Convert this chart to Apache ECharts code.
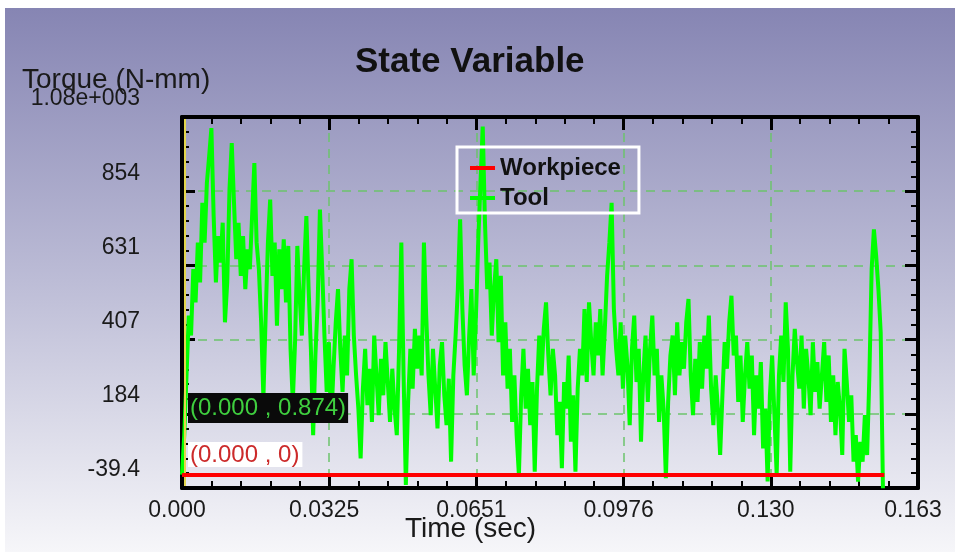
<!DOCTYPE html>
<html>
<head>
<meta charset="utf-8">
<title>State Variable</title>
<script src="https://cdn.jsdelivr.net/npm/echarts@6/dist/echarts.min.js"></script>
<style>
  body { margin: 0; background: #ffffff; }
  #charts { width: 955px; height: 552px; }
</style>
</head>
<body>
<div id="charts"></div>
<script>
/* data */
let xTickLabels = ["0.000", "0.0325", "0.0651", "0.0976", "0.130", "0.163"];
let yTickLabels = ["-39.4", "184", "407", "631", "854", "1.08e+003"];
let xMin = 0;
let xStep = 0.03255;
let yMin = -39.4;
let yStep = 223.6;

let workpieceTime = [0, 0.1553];
let workpieceTorque = [0, 0];

let toolTimeStep = 0.0005; //sec between samples
let toolTorque = [
  0.874, 120, 300, 480, 420, 620, 520, 700, 580, 820,
  700, 880, 960, 1045, 780, 580, 720, 640, 760, 460,
  580, 860, 1000, 820, 650, 760, 600, 720, 560, 680,
  620, 780, 940, 700, 620, 460, 230, 480, 700, 830,
  600, 700, 450, 680, 560, 710, 520, 690, 380, 220,
  400, 690, 540, 420, 620, 780, 560, 380, 120, 360,
  520, 800, 620, 420, 250, 400, 160, 320, 460, 560,
  380, 250, 420, 300, 560, 650, 420, 300, 200, 50,
  260, 380, 210, 320, 160, 420, 300, 180, 350, 240,
  400, 280, 160, 320, 200, 120, 380, 700, 300, -30,
  220, 380, 260, 440, 320, 420, 300, 700, 480, 300,
  180, 380, 260, 140, 330, 400, 240, 150, 290, 40,
  300, 420, 560, 770, 500, 330, 240, 420, 560, 300,
  480, 700, 880, 1050, 760, 560, 640, 420, 560, 650,
  400, 600, 300, 460, 260, 380, 160, 300, 120, 0,
  240, 380, 200, 320, 150, 280, 10, 260, 420, 300,
  440, 520, 360, 240, 380, 300, 120, 220, 20, 280,
  200, 360, 100, 240, 10, 260, 380, 300, 500, 280,
  520, 400, 300, 460, 360, 500, 300, 440, 600, 700,
  820, 500, 380, 300, 460, 260, 420, 330, 150, 380,
  480, 280, 380, 100, 300, 420, 220, 380, 480, 300,
  380, 160, 300, 200, -10, 220, 360, 420, 240, 460,
  300, 400, 320, 460, 530, 300, 180, 350, 220, 400,
  260, 420, 320, 480, 260, 150, 300, 200, 60, 240,
  400, 320, 460, 540, 360, 420, 220, 360, 160, 300,
  400, 260, 360, 120, 300, 200, 340, 80, 200, -20,
  240, 360, 180, 0, 300, 420, 280, 520, 380, 10,
  300, 440, 340, 260, 420, 200, 380, 300, 180, 400,
  250, 340, 200, 300, 400, 220, 360, 160, 300, 120,
  280, 200, 60, 380, 280, 160, 240, 40, 120, -20,
  100, 40, 180, 60, 300, 620, 740, 660, 560, 430,
  -40,
];

/* build [time, torque] pairs */
function toolPairs() {
  let pairs = [];
  for (let i = 0; i < toolTorque.length; i++) {
    pairs.push([i * toolTimeStep, toolTorque[i]]);
  }
  return pairs;
}

function workpiecePairs() {
  return workpieceTime.map(function (t, i) {
    return [t, workpieceTorque[i]];
  });
}

let labelFont = "Liberation Sans";

/* shared axis look */
function axisCommon() {
  return {
    axisLine: { show: true, onZero: false, lineStyle: { color: "#000", width: 4 } },
    axisTick: { show: true, inside: true, length: 13, lineStyle: { color: "#000", width: 3 } },
    minorTick: { show: true, splitNumber: 5, length: 7, lineStyle: { color: "#000", width: 2 } },
    axisLabel: { show: false },
  };
}

let gridDash = {
  show: true,
  lineStyle: { color: "#6cc46c", width: 1.5, type: [9, 7] },
};

let xBottom = Object.assign(axisCommon(), {
  type: "value",
  position: "bottom",
  min: xMin,
  max: xMin + 5 * xStep,
  interval: xStep,
  splitLine: gridDash,
});
xBottom.axisLabel = {
  show: true,
  fontSize: 23,
  fontFamily: labelFont,
  color: "#1a1a1a",
  margin: 11,
  padding: [0, 10, 0, 0],
  formatter: function (value) {
    return xTickLabels[Math.round((value - xMin) / xStep)];
  },
};
let xTop = Object.assign(axisCommon(), {
  type: "value",
  position: "top",
  min: xMin,
  max: xMin + 5 * xStep,
  interval: xStep,
  splitLine: { show: false },
});

let yLeft = Object.assign(axisCommon(), {
  type: "value",
  position: "left",
  min: yMin,
  max: yMin + 5 * yStep,
  interval: yStep,
  splitLine: gridDash,
});
yLeft.axisLabel = {
  show: true,
  fontSize: 23,
  fontFamily: labelFont,
  color: "#1a1a1a",
  margin: 42,
  verticalAlign: "bottom",
  lineHeight: 36, //labels sit above their tick
  formatter: function (value) {
    return yTickLabels[Math.round((value - yMin) / yStep)];
  },
};
let yRight = Object.assign(axisCommon(), {
  type: "value",
  position: "right",
  min: yMin,
  max: yMin + 5 * yStep,
  interval: yStep,
  splitLine: { show: false },
});

/* chart render */
let myChart = echarts.init(document.getElementById("charts"));
let option = {
  animation: false,
  backgroundColor: "#ffffff",
  title: [
    {
      text: "State Variable",
      left: 355,
      top: 45,
      padding: 0,
      textStyle: { fontSize: 35, fontWeight: "bold", fontFamily: labelFont, color: "#111" },
    },
    {
      text: "Torque (N-mm)",
      left: 22,
      top: 66,
      padding: 0,
      textStyle: { fontSize: 28, fontWeight: "normal", fontFamily: labelFont, color: "#1a1a1a" },
    },
    {
      text: "Time (sec)",
      left: 405,
      top: 515,
      padding: 0,
      textStyle: { fontSize: 28, fontWeight: "normal", fontFamily: labelFont, color: "#1a1a1a" },
    },
  ],
  grid: { left: 182, top: 117, width: 736, height: 371, containLabel: false },
  xAxis: [xBottom, xTop],
  yAxis: [yLeft, yRight],
  legend: {
    data: ["Workpiece", "Tool"],
    orient: "vertical",
    left: 457,
    top: 147,
    padding: [9, 18, 3, 13],
    itemGap: 6,
    itemWidth: 25,
    itemHeight: 4,
    icon: "rect",
    borderColor: "#ffffff",
    borderWidth: 3,
    textStyle: { fontSize: 24, fontWeight: "bold", fontFamily: labelFont, color: "#111" },
  },
  graphic: [
    {
      type: "rect",
      z: -10,
      silent: true,
      shape: { x: 5, y: 8, width: 950, height: 544 },
      style: {
        fill: new echarts.graphic.LinearGradient(0, 0, 0, 1, [
          { offset: 0, color: "#8685b3" },
          { offset: 0.5, color: "#bcbcd6" },
          { offset: 1, color: "#f6f6f9" },
        ]),
      },
    },
    {
      type: "line",
      z: 3,
      silent: true,
      shape: { x1: 185, y1: 119, x2: 185, y2: 486 },
      style: { stroke: "#e4d64c", lineWidth: 2 },
    },
    {
      type: "text",
      z: 10,
      x: 188,
      y: 393,
      style: {
        text: "(0.000 , 0.874)",
        font: "24px " + labelFont,
        fill: "#3fcf3f",
        backgroundColor: "#0a0a0a",
        padding: [3, 2, 3, 2],
      },
    },
    {
      type: "text",
      z: 10,
      x: 188,
      y: 442,
      style: {
        text: "(0.000 , 0)",
        font: "24px " + labelFont,
        fill: "#cc2a2a",
        backgroundColor: "#ffffff",
        padding: [1, 3, 0, 2],
      },
    },
  ],
  series: [
    {
      name: "Tool",
      type: "line",
      data: toolPairs(),
      showSymbol: false,
      z: 2,
      lineStyle: { color: "#00ff00", width: 4 },
      itemStyle: { color: "#00ff00" },
    },
    {
      name: "Workpiece",
      type: "line",
      data: workpiecePairs(),
      showSymbol: false,
      z: 3,
      lineStyle: { color: "#ff0000", width: 4 },
      itemStyle: { color: "#ff0000" },
    },
  ],
};
myChart.setOption(option);
</script>
</body>
</html>
